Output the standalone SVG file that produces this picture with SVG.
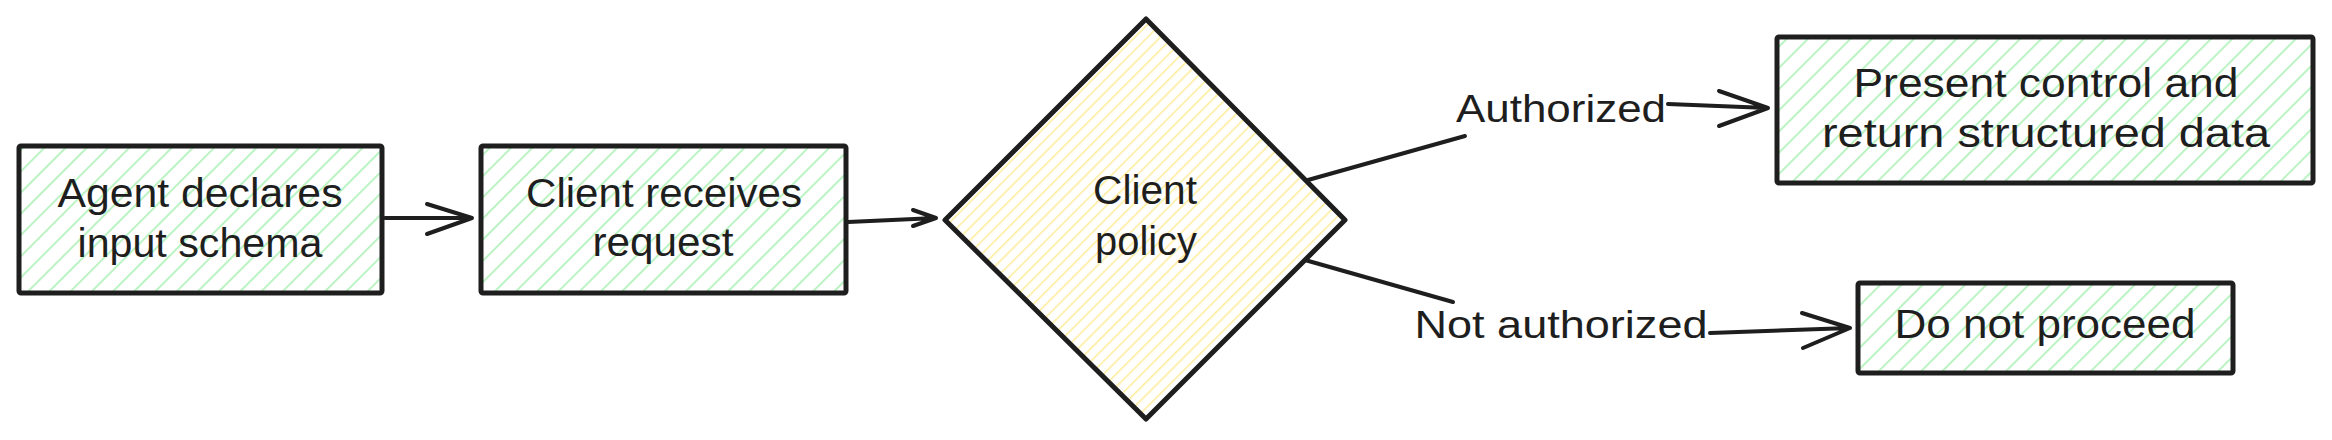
<svg xmlns="http://www.w3.org/2000/svg" width="2332" height="440" viewBox="0 0 2332 440">
<style>
.box{stroke:#1e1e1e;stroke-width:5;stroke-linejoin:round}
.g{fill:url(#hg)}
.y{fill:url(#hy)}
.t{font-family:"Liberation Sans",Arial,sans-serif;font-size:40px;fill:#1e1e1e;text-anchor:middle}
.l{font-family:"Liberation Sans",Arial,sans-serif;font-size:38px;fill:#1e1e1e;text-anchor:middle}
.c{fill:none;stroke:#1e1e1e;stroke-width:4;stroke-linecap:round;stroke-linejoin:round}
</style>
<defs>
<pattern id="hg" patternUnits="userSpaceOnUse" width="15" height="15" patternTransform="rotate(45)">
<rect width="15" height="15" fill="#fff"/>
<line x1="0" y1="0" x2="0" y2="15" stroke="#b2f2bb" stroke-width="3.5"/>
</pattern>
<pattern id="hy" patternUnits="userSpaceOnUse" width="9" height="9" patternTransform="rotate(45)">
<rect width="9" height="9" fill="#fff"/>
<line x1="0" y1="0" x2="0" y2="9" stroke="#ffec99" stroke-width="3"/>
</pattern>
</defs>
<rect width="2332" height="440" fill="#fff"/>
<g id="n1">
<rect class="box g" x="19" y="146" width="363" height="147" rx="2"/>
<text class="t" x="200" y="207" textLength="285" lengthAdjust="spacingAndGlyphs">Agent declares</text>
<text class="t" x="200" y="257" textLength="245" lengthAdjust="spacingAndGlyphs">input schema</text>
</g>
<g id="n2">
<rect class="box g" x="481" y="146" width="365" height="147" rx="2"/>
<text class="t" x="664" y="207" textLength="276" lengthAdjust="spacingAndGlyphs">Client receives</text>
<text class="t" x="663" y="256" textLength="141" lengthAdjust="spacingAndGlyphs">request</text>
</g>
<g id="n3">
<polygon class="box y" points="1146,19 1345,220 1146,419 945,220"/>
<text class="t" x="1145" y="204" textLength="104" lengthAdjust="spacingAndGlyphs">Client</text>
<text class="t" x="1146" y="255" textLength="102" lengthAdjust="spacingAndGlyphs">policy</text>
</g>
<g id="n4">
<rect class="box g" x="1777" y="37" width="536" height="146" rx="2"/>
<text class="t" x="2046" y="97" textLength="385" lengthAdjust="spacingAndGlyphs">Present control and</text>
<text class="t" x="2046" y="147" textLength="448" lengthAdjust="spacingAndGlyphs">return structured data</text>
</g>
<g id="n5">
<rect class="box g" x="1858" y="283" width="375" height="90" rx="2"/>
<text class="t" x="2045" y="338" textLength="301" lengthAdjust="spacingAndGlyphs">Do not proceed</text>
</g>
<g id="connectors">
<path class="c" d="M385 218 L472 218 M427 204 L472 218 L427 234"/>
<path class="c" d="M848 222 L936 218 M913 210 L936 218 L913 226"/>
<path class="c" d="M1308 180 L1465 136"/>
<path class="c" d="M1668 104 L1768 108 M1719 91 L1768 108 L1719 126" stroke-width="5"/>
<text class="l" x="1561" y="122" textLength="210" lengthAdjust="spacingAndGlyphs">Authorized</text>
<path class="c" d="M1305 260 L1453 302"/>
<path class="c" d="M1710 333 L1850 328 M1802 313 L1850 328 L1803 348" stroke-width="5"/>
<text class="l" x="1561" y="338" textLength="293" lengthAdjust="spacingAndGlyphs">Not authorized</text>
</g>
</svg>
